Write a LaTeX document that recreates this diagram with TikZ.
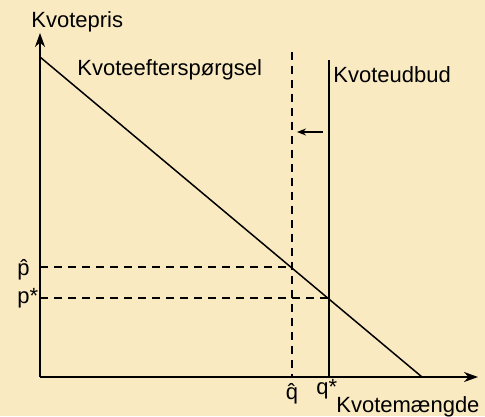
\documentclass[tikz,border=0pt]{standalone}
\usepackage{fontspec}
\setmainfont{Liberation Sans}
\usetikzlibrary{arrows.meta}
\definecolor{paper}{RGB}{250,234,193}
\begin{document}
\begin{tikzpicture}[
    x=0.5pt, y=-0.5pt,
    lbl/.style={inner sep=0pt, anchor=base west, font=\fontsize{11}{13}\selectfont},
    axis/.style={line width=1pt, -{Stealth[length=7pt,width=5pt]}},
    curve/.style={line width=0.75pt},
    guide/.style={line width=0.75pt, dash pattern=on 4pt off 3pt},
    >={Stealth[length=4.5pt,width=3.5pt]}
]
    \useasboundingbox[fill=paper] (0,0) rectangle (485,416);

    % 1. Axes
    \coordinate (origin) at (40,377);
    \coordinate (ytip) at (40,33);
    \coordinate (xtip) at (478,377);
    \draw[axis] (origin) -- (ytip);
    \draw[axis] (origin) -- (xtip);
    \node[lbl] (ylab) at (31,28) {Kvotepris};
    \node[lbl] (xlab) at (336,412) {Kvotemængde};

    % 2. Demand and supply
    \coordinate (dtop) at (40,57);
    \coordinate (dbot) at (422,377);
    \draw[curve] (dtop) -- (dbot);
    \node[lbl] (dlab) at (77,76) {Kvoteefterspørgsel};

    \coordinate (stop) at (329,60);
    \coordinate (sbot) at (329,377);
    \draw[curve] (stop) -- (sbot);
    \node[lbl] (slab) at (333,83) {Kvoteudbud};

    % shifted supply (dashed)
    \coordinate (htop) at (292,52);
    \coordinate (hbot) at (292,377);
    \draw[guide] (htop) -- (hbot);
    \coordinate (shiftA) at (323,132);
    \coordinate (shiftB) at (297,132);
    \draw[->, line width=0.75pt] (shiftA) -- (shiftB);

    % 3. Price levels
    \coordinate (phat) at (292,267);
    \coordinate (pstar) at (329,298);
    \coordinate (phatax) at (40,267);
    \coordinate (pstarax) at (40,298);
    \draw[guide] (phatax) -- (phat);
    \draw[guide] (pstarax) -- (pstar);
    \node[lbl] (phatlab) at (17,275) {\^{p}};
    \node[lbl] (pstarlab) at (17,303) {p*};
    \node[lbl, anchor=base] (qhatlab) at (292,399) {\^{q}};
    \node[lbl] (qstarlab) at (316,394) {q*};

\end{tikzpicture}
\end{document}
